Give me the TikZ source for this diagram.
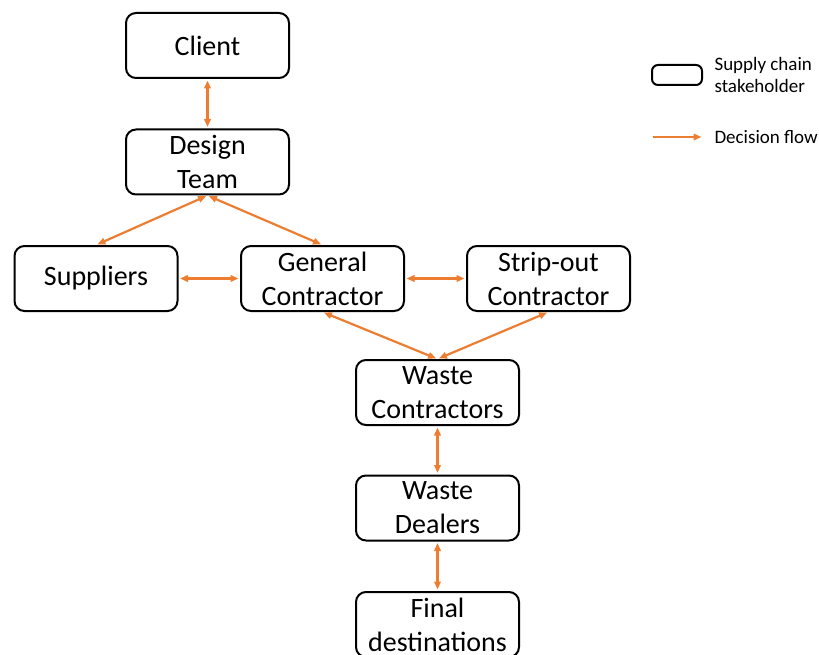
\documentclass[tikz,border=0pt]{standalone}
\usepackage{fontspec}
\setmainfont{Carlito}
\usepackage{xcolor}
\usetikzlibrary{arrows.meta}
\definecolor{NaranjaFlujo}{RGB}{237,125,49}
\tikzset{
  actor/.style={draw,line width=2pt,rounded corners=10pt,minimum width=163pt,minimum height=65pt,
    inner sep=0pt,align=center,font=\fontsize{28}{34}\selectfont},
  flujo/.style={<->,line width=2.2pt,NaranjaFlujo,shorten >=1.5pt,shorten <=1.5pt},
  leyenda/.style={anchor=west,align=left,font=\fontsize{19}{22}\selectfont}
}

\begin{document}
\begin{tikzpicture}[>={Triangle[length=8pt,width=6.5pt]},x=1pt,y=-1pt]
  \useasboundingbox (0,0) rectangle (819,655);
  \node[actor] (client) at (207.5,45.5) {Client};
  \node[actor] (design) at (207.5,162) {Design\\Team};
  \node[actor] (suppliers) at (96,278.5) {Suppliers};
  \node[actor] (general) at (322.5,278.5) {General\\Contractor};
  \node[actor] (stripout) at (548.5,278.5) {Strip-out\\Contractor};
  \node[actor] (wastecon) at (437.5,392.5) {Waste\\Contractors};
  \node[actor] (dealers) at (437.5,508) {Waste\\Dealers};
  \node[actor] (final) at (437.5,624.5) {Final\\destinations};
  \draw[flujo] (client) -- (design);
  \draw[flujo] (design.south) -- (suppliers.north);
  \draw[flujo] (design.south) -- (general.north);
  \draw[flujo] (suppliers) -- (general);
  \draw[flujo] (general) -- (stripout);
  \draw[flujo] (general.south) -- (wastecon.north);
  \draw[flujo] (stripout.south) -- (wastecon.north);
  \draw[flujo] (wastecon) -- (dealers);
  \draw[flujo] (dealers) -- (final);
  % leyenda
  \node[actor,minimum width=50pt,minimum height=20pt,rounded corners=6pt] (cajaLey) at (677,75) {};
  \node[leyenda] (textoLey) at (711,75) {Supply chain\\stakeholder};
  \coordinate (flechaA) at (651,137);
  \coordinate (flechaB) at (703,137);
  \draw[flujo,->] (flechaA) -- (flechaB);
  \node[leyenda] (flujoLey) at (711,137) {Decision flow};
\end{tikzpicture}
\end{document}
